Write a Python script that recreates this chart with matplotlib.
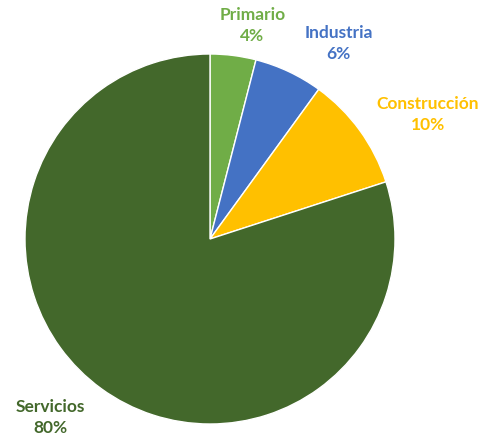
import matplotlib.pyplot as plt
import numpy as np

sectores = ["Primario", "Industria", "Construcción", "Servicios"]
porcentajes = [4, 6, 10, 80]
colores = ["#70AD47", "#4472C4", "#FFC000", "#43682B"]

# label placement tweaks (radial factor, angle shift in degrees)
lab_dist = [1.18, 1.27, 1.36, 1.29]
lab_shift = [-4, -8, -6, -6]

fig = plt.figure(figsize=(4.85, 4.39), dpi=100)
ax = fig.add_axes([0, 0, 1, 1])

R = 185
cx, cy = 210, 439 - 240
wedges, _ = ax.pie(porcentajes, colors=colores, startangle=90, counterclock=False,
                   radius=R, center=(cx, cy),
                   wedgeprops=dict(edgecolor="white", linewidth=1.0))

for w, nombre, p, c, d, s in zip(wedges, sectores, porcentajes, colores, lab_dist, lab_shift):
    ang = np.deg2rad((w.theta1 + w.theta2) / 2 + s)
    x = cx + R * d * np.cos(ang)
    y = cy + R * d * np.sin(ang)
    ax.text(x, y, f"{nombre}\n{p}%", ha="center", va="center", color=c,
            fontsize=12.5, fontweight="bold", family="Lato", linespacing=1.4)

ax.set_xlim(0, 485)
ax.set_ylim(0, 439)
ax.set_aspect("equal")
ax.axis("off")

plt.savefig("out.png", dpi=100)
plt.close()
